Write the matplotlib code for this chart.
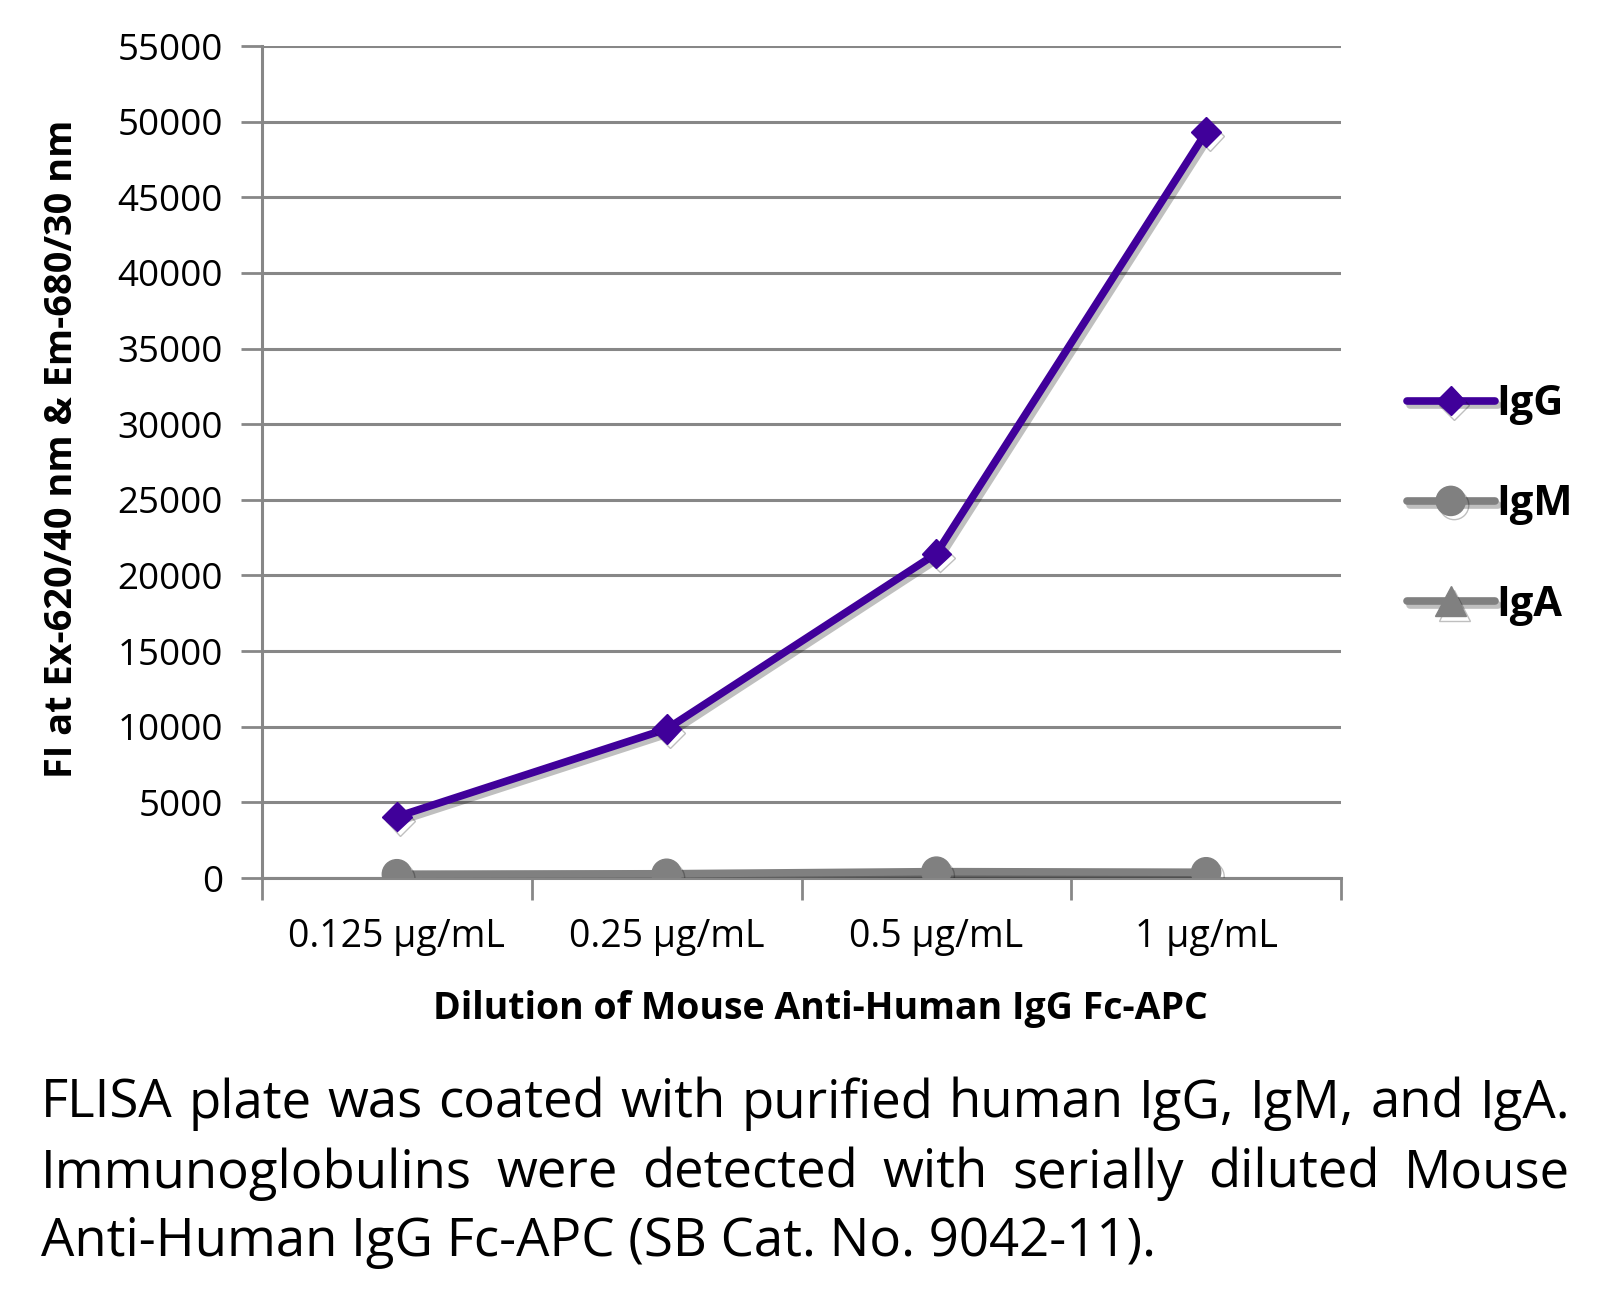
import matplotlib
matplotlib.use("Agg")
import matplotlib.pyplot as plt
import matplotlib.patheffects as pe

# data
categories = ["0.125 µg/mL", "0.25 µg/mL", "0.5 µg/mL", "1 µg/mL"]
igg = [4050, 9850, 21450, 49300]
igm = [250, 280, 420, 380]
iga = [180, 200, 320, 300]
yticks = list(range(0, 55001, 5000))

caption = [
    "FLISA plate was coated with purified human IgG, IgM, and IgA.",
    "Immunoglobulins were detected with serially diluted Mouse",
    "Anti-Human IgG Fc-APC (SB Cat. No. 9042-11).",
]

PURPLE = "#40009A"
GREY = "#808080"
GRID = "#878787"
FONT = "Open Sans"

plt.rcParams["font.family"] = [FONT, "DejaVu Sans"]

fig = plt.figure(figsize=(16.09, 13.06), dpi=100)
W, H = 1609, 1306
left, right, top, bottom = 262, 1341, 46, 878
ax = fig.add_axes([left / W, 1 - bottom / H, (right - left) / W, (bottom - top) / H])

x = list(range(len(categories)))
shadow = [pe.SimpleLineShadow(offset=(2.5, -3), shadow_color="black", alpha=0.25, rho=0.3), pe.Normal()]

ax.plot(x, iga, color=GREY, lw=5.5, marker="^", ms=22, label="IgA",
        path_effects=shadow, solid_capstyle="round", zorder=3)
ax.plot(x, igm, color=GREY, lw=5.5, marker="o", ms=21, label="IgM",
        path_effects=shadow, solid_capstyle="round", zorder=4)
ax.plot(x, igg, color=PURPLE, lw=5.5, marker="D", ms=15, label="IgG",
        path_effects=shadow, solid_capstyle="round", zorder=5)

ax.set_xlim(-0.5, len(categories) - 0.5)
ax.set_ylim(0, 55000)
ax.set_yticks(yticks)
ax.set_yticklabels([str(v) for v in yticks], fontsize=26.5)
ax.set_xticks(x)
ax.set_xticklabels(categories, fontsize=27)
ax.set_xticks([i - 0.5 for i in range(len(categories) + 1)], minor=True)

ax.tick_params(axis="x", which="major", length=0, pad=29)
ax.tick_params(axis="x", which="minor", length=16, width=2, color=GRID, direction="out")
ax.tick_params(axis="y", length=15, width=2, color=GRID, pad=13)

for s in ["top", "right"]:
    ax.spines[s].set_visible(False)
for s in ["left", "bottom"]:
    ax.spines[s].set_color(GRID)
    ax.spines[s].set_linewidth(2.2)

ax.grid(axis="y", color=GRID, lw=2.2)
ax.set_axisbelow(True)

fig.text(62 / W, 1 - 449 / H, "FI at Ex-620/40 nm & Em-680/30 nm", rotation=90,
         ha="center", va="center", fontsize=27.3, fontweight="bold")
fig.text(820 / W, 1 - 1009 / H, "Dilution of Mouse Anti-Human IgG Fc-APC",
         ha="center", va="center", fontsize=27, fontweight="bold")

handles, labels = ax.get_legend_handles_labels()
leg = fig.legend(handles[::-1], labels[::-1], loc="center left",
                 bbox_to_anchor=(1407 / W, 1 - 505 / H), frameon=False, borderpad=0,
                 borderaxespad=0, handlelength=2.1, handletextpad=0.05, labelspacing=1.42,
                 prop={"weight": "bold", "size": 30})

# caption, first two lines justified across the width
fig.canvas.draw()
renderer = fig.canvas.get_renderer()
cx0, cx1 = 41, 1570
ys = [1104, 1174, 1242]
CAP = 38
for i, line in enumerate(caption):
    if i < 2:
        words = line.split(" ")
        widths = []
        for w in words:
            t = fig.text(0, 0, w, fontsize=CAP)
            widths.append(t.get_window_extent(renderer).width)
            t.remove()
        gap = (cx1 - cx0 - sum(widths)) / (len(words) - 1)
        pos = cx0
        for w, wd in zip(words, widths):
            fig.text(pos / W, 1 - ys[i] / H, w, fontsize=CAP, va="center", ha="left")
            pos += wd + gap
    else:
        fig.text(cx0 / W, 1 - ys[i] / H, line, fontsize=CAP, va="center", ha="left")

fig.savefig("out.png", dpi=100)
